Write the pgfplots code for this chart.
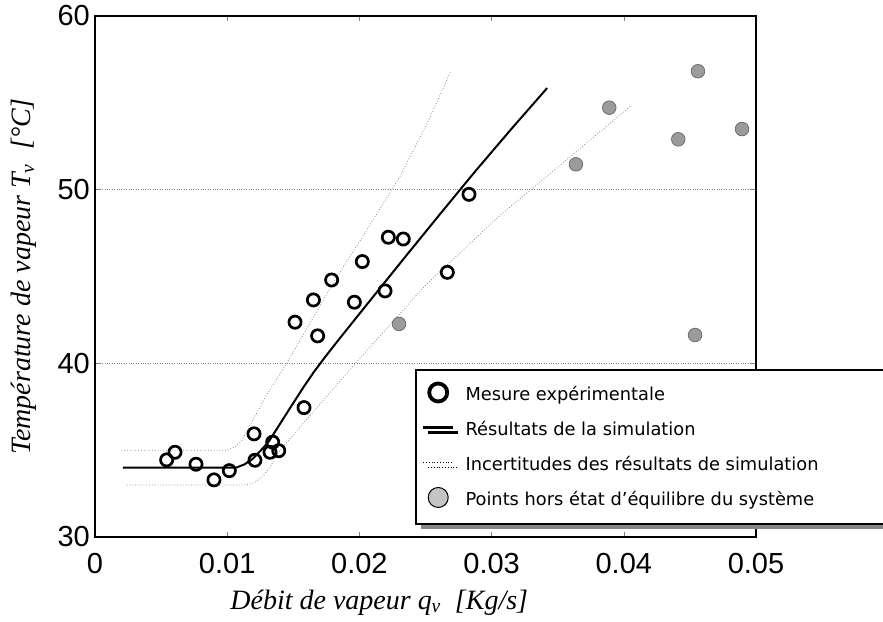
\documentclass[border=0pt]{standalone}
\usepackage{fontspec}
\setmainfont{Liberation Sans}
\newfontfamily\legfont{DejaVu Sans}
\newfontfamily\labfont{Liberation Serif}
\usepackage{pgfplots}
\pgfplotsset{compat=1.18}
\usetikzlibrary{shadows}
\definecolor{ptgray}{HTML}{9B9B9B}
\definecolor{ptedge}{HTML}{6E6E6E}
\definecolor{leggray}{HTML}{C4C4C4}
\definecolor{unc}{HTML}{8A8A8A}
\begin{document}
\begin{tikzpicture}
\begin{axis}[name=ax, scale only axis, width=661pt, height=521pt,
  xmin=0, xmax=0.05, ymin=30, ymax=60,
  scaled x ticks=false, scaled y ticks=false,
  xtick={0,0.01,0.02,0.03,0.04,0.05},
  xticklabels={0,0.01,0.02,0.03,0.04,0.05},
  ytick={30,40,50,60},
  yticklabels={30,40,50,60},
  tick align=inside, major tick length=5pt,
  tick style={gray, line width=0.6pt},
  ymajorgrids, grid style={dotted, gray, line width=0.6pt},
  axis line style={line width=1.8pt},
  ticklabel style={font=\fontsize{29}{31}\selectfont, inner sep=0pt},
  xticklabel style={yshift=-16pt},
  yticklabel style={xshift=-5pt},
  /pgf/number format/assume math mode=true,
  xlabel={\labfont\itshape D\'ebit de vapeur q\textsubscript{v}~~[Kg/s]},
  xlabel style={font=\fontsize{28}{30}\selectfont, at={(axis description cs:0.43,0)}, anchor=base, yshift=-72pt},
  ylabel={\labfont\itshape Temp\'erature de vapeur T\textsubscript{v}~~[°C]},
  ylabel style={font=\fontsize{28}{30}\selectfont, at={(axis description cs:-0.108,0.5)}, anchor=center},
  legend image code/.code={\draw[yshift=2pt,mark repeat=2,mark phase=2,#1] plot coordinates {(0pt,0pt) (15pt,0pt) (30pt,0pt)};},
  legend style={at={(axis description cs:0.484,0.3225)}, anchor=north west,
    draw=black, line width=2pt, fill=white,
    drop shadow={shadow xshift=5pt, shadow yshift=-5pt, fill=gray!95, opacity=1},
    font=\legfont\fontsize{17.8}{20}\selectfont,
    inner xsep=6pt, inner ysep=11pt, row sep=8pt, column sep=8pt,
    nodes={inner sep=3pt, text height=17pt, text depth=4pt}},
  legend cell align=left,
]
% uncertainty curves
\addplot[unc, dotted, line width=0.8pt, forget plot] coordinates {
(0.0020,35) (0.0100,35) (0.0106,35.2) (0.0111,35.55) (0.0117,36.4) (0.0130,38.2)
(0.0145,40.0) (0.0180,44.6) (0.0205,47.6) (0.0231,50.8) (0.0253,54.1) (0.0269,56.8)};
\addplot[unc, dotted, line width=0.8pt, forget plot] coordinates {
(0.0024,33) (0.0115,33) (0.0121,33.15) (0.0127,33.5) (0.0133,34.1) (0.0140,35.0)
(0.0197,40.0) (0.0250,44.5) (0.0306,48.5) (0.0347,51.1) (0.0405,54.8)};
% simulation
\addplot[black, line width=2pt, forget plot] coordinates {
(0.0021,34.0) (0.0107,34.0) (0.0113,34.18) (0.0119,34.48) (0.0125,34.95) (0.0131,35.45)
(0.0138,36.28) (0.0148,37.48) (0.0158,38.66) (0.0166,39.55) (0.0174,40.36) (0.0184,41.33)
(0.0200,42.85) (0.0237,46.35) (0.0260,48.5) (0.0287,51.0) (0.0315,53.5) (0.0342,55.85)};
% measurements
\addplot[only marks, mark=o, mark size=6.1pt, mark options={line width=2.7pt, draw=black}, forget plot] coordinates {
(0.00542,34.44) (0.00605,34.88) (0.00764,34.19) (0.0090,33.29) (0.01016,33.82)
(0.01203,35.94) (0.0121,34.42) (0.01344,35.46) (0.01324,34.88) (0.0139,34.97)
(0.01581,37.45) (0.01513,42.37) (0.01684,41.58) (0.01652,43.65) (0.0179,44.80)
(0.01962,43.52) (0.02022,45.86) (0.02194,44.17) (0.02219,47.26) (0.02332,47.16)
(0.02665,45.24) (0.02829,49.73)};
% points out of equilibrium
\addplot[only marks, mark=*, mark size=6.8pt, mark options={fill=ptgray, draw=ptedge, line width=0.8pt}, forget plot] coordinates {
(0.0230,42.27) (0.03638,51.46) (0.0389,54.72) (0.04412,52.9) (0.04561,56.82)
(0.04894,53.49) (0.04539,41.63)};
\addlegendimage{only marks, mark=o, mark size=9pt, mark options={line width=3.8pt, draw=black}}
\addlegendentry{Mesure expérimentale}
\addlegendimage{black, line width=2.6pt}
\addlegendentry{Résultats de la simulation}
\addlegendimage{black, dotted, line width=0.8pt}
\addlegendentry{\makebox[440pt][l]{Incertitudes des résultats de simulation}}
\addlegendimage{only marks, mark=*, mark size=10pt, mark options={fill=leggray, draw=black, line width=1pt}}
\addlegendentry{Points hors état d’équilibre du système}
\end{axis}
\pgfresetboundingbox
\path ([xshift=-95pt,yshift=-84pt]ax.south west) rectangle ([xshift=127pt,yshift=16pt]ax.north east);
\end{tikzpicture}
\end{document}
